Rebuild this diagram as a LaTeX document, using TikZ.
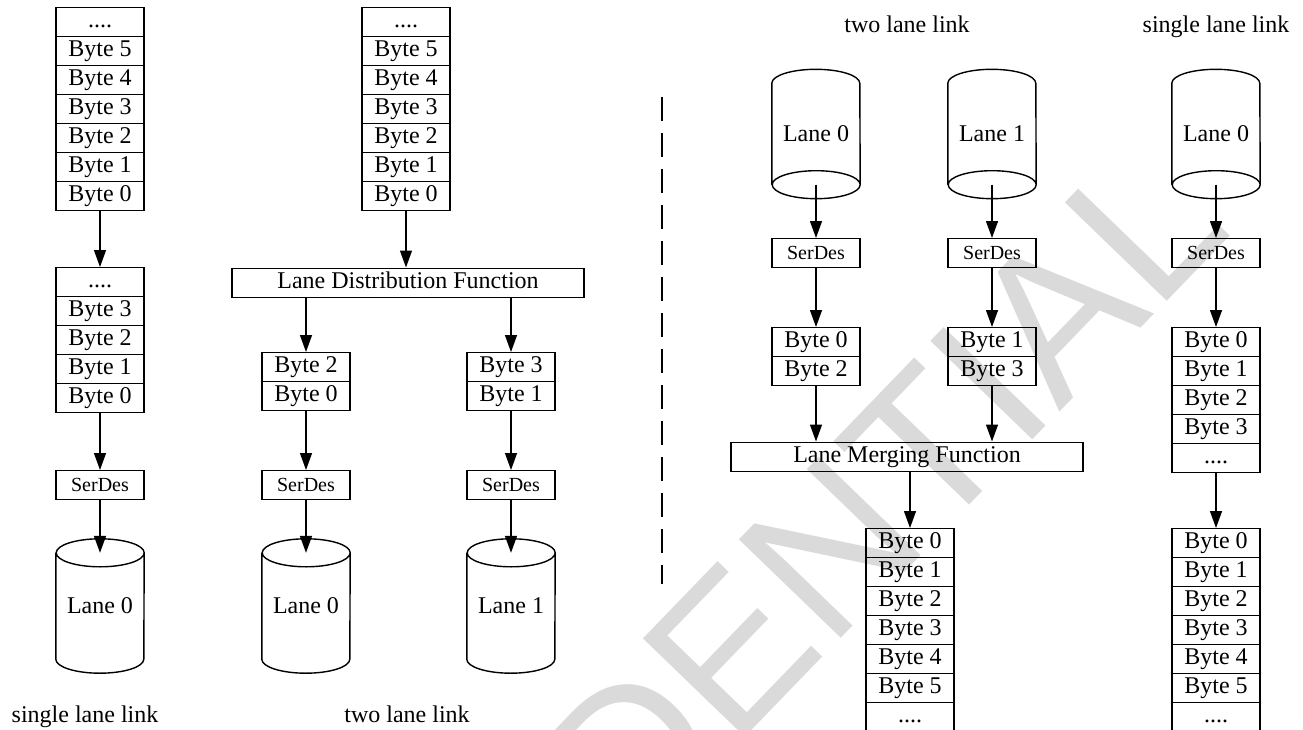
\documentclass[tikz,border=0pt]{standalone}
\usepackage{fontspec}
\setmainfont{Liberation Serif}
\newfontfamily\wmfont{Liberation Sans}
\usetikzlibrary{arrows.meta}
\definecolor{wmgray}{RGB}{218,218,218}
\newcommand\fourdots{....}
\tikzset{
  line/.style={line width=1.4pt},
  cell/.style={draw, line width=1.4pt, minimum width=88pt, minimum height=29pt, inner sep=0pt,
    anchor=north, font=\fontsize{24}{24}\selectfont, text height=16pt, text depth=5pt},
  serdes/.style={cell, font=\fontsize{20}{20}\selectfont, text height=13.5pt, text depth=0pt},
  func/.style={cell, minimum width=352pt},
  cyl/.style={minimum width=88pt, inner sep=0pt, font=\fontsize{24}{24}\selectfont},
  arr/.style={line width=1.4pt, -{Triangle[length=17pt,width=12pt]}},
  lbl/.style={anchor=base, inner sep=0pt, font=\fontsize{24}{24}\selectfont},
  divider/.style={line width=2pt, dash pattern=on 24pt off 12pt},
  watermark/.style={text=wmgray, inner sep=0pt, font=\wmfont\fontsize{206}{206}\selectfont},
}
\newcommand\stackcells[4]{%
  \foreach \t [count=\i] in {#4} {\node[cell] (#1-\i) at (#2, {#3+(\i-1)*29}) {\t};}%
}
\newcommand\cylTX[1]{%
  \draw[line] (#1.north west) -- (#1.south west)
    arc[start angle=180, end angle=360, x radius=44pt, y radius=14pt] -- (#1.north east)
    arc[start angle=0, end angle=360, x radius=44pt, y radius=14pt];%
}
\newcommand\cylRX[1]{%
  \draw[line] (#1.south west) -- (#1.north west)
    arc[start angle=180, end angle=0, x radius=44pt, y radius=14pt] -- (#1.south east)
    arc[start angle=0, end angle=-360, x radius=44pt, y radius=14pt];%
}
\begin{document}
\begin{tikzpicture}[x=1pt, y=-1pt]
\useasboundingbox (0,0) rectangle (1303,730);
% watermark
\node[watermark, rotate=46] (wm) at (659,725) {CONFIDENTIAL};

% ---------- left: single lane link (TX)
\stackcells{A}{100}{7}{\fourdots,Byte 5,Byte 4,Byte 3,Byte 2,Byte 1,Byte 0}
\stackcells{B}{100}{267}{\fourdots,Byte 3,Byte 2,Byte 1,Byte 0}
\node[serdes] (S1) at (100,470) {SerDes};
\node[cyl, minimum height=106pt] (C1) at (100,606) {Lane 0};
\cylTX{C1}
\node[lbl] (L1) at (85,722) {single lane link};

% ---------- left: two lane link (TX)
\stackcells{D}{406}{7}{\fourdots,Byte 5,Byte 4,Byte 3,Byte 2,Byte 1,Byte 0}
\node[func] (LDF) at (408,267.5) {Lane Distribution Function};
\stackcells{E}{306}{352}{Byte 2,Byte 0}
\stackcells{F}{511}{352}{Byte 3,Byte 1}
\node[serdes] (S2) at (306,470) {SerDes};
\node[serdes] (S3) at (511,470) {SerDes};
\node[cyl, minimum height=106pt] (C2) at (306,606) {Lane 0};
\node[cyl, minimum height=106pt] (C3) at (511,606) {Lane 1};
\cylTX{C2}
\cylTX{C3}
\node[lbl] (L2) at (407,722) {two lane link};

% ---------- divider
\coordinate (d1) at (662,97);
\coordinate (d2) at (662,584);
\draw[divider] (d1) -- (d2);

% ---------- right: two lane link (RX)
\node[lbl] (L3) at (907,33) {two lane link};
\node[cyl, minimum height=101pt] (R0) at (816,134) {Lane 0};
\node[cyl, minimum height=101pt] (R1) at (992,134) {Lane 1};
\cylRX{R0}
\cylRX{R1}
\node[serdes] (RS0) at (816,238) {SerDes};
\node[serdes] (RS1) at (992,238) {SerDes};
\stackcells{G}{816}{327}{Byte 0,Byte 2}
\stackcells{H}{992}{327}{Byte 1,Byte 3}
\node[func] (LMF) at (907,441.5) {Lane Merging Function};
\stackcells{I}{910}{528}{Byte 0,Byte 1,Byte 2,Byte 3,Byte 4,Byte 5,\fourdots}

% ---------- right: single lane link (RX)
\node[lbl] (L4) at (1216,33) {single lane link};
\node[cyl, minimum height=101pt] (R2) at (1216,134) {Lane 0};
\cylRX{R2}
\node[serdes] (RS2) at (1216,238) {SerDes};
\stackcells{J}{1216}{327}{Byte 0,Byte 1,Byte 2,Byte 3,\fourdots}
\stackcells{K}{1216}{528}{Byte 0,Byte 1,Byte 2,Byte 3,Byte 4,Byte 5,\fourdots}

% ---------- arrows
\draw[arr] (A-7.south) -- (B-1.north);
\draw[arr] (B-5.south) -- (S1.north);
\draw[arr] (S1.south) -- (C1.north);

\draw[arr] (D-7.south) -- (D-7.south |- LDF.north);
\draw[arr] (E-1.north |- LDF.south) -- (E-1.north);
\draw[arr] (F-1.north |- LDF.south) -- (F-1.north);
\draw[arr] (E-2.south) -- (S2.north);
\draw[arr] (F-2.south) -- (S3.north);
\draw[arr] (S2.south) -- (C2.north);
\draw[arr] (S3.south) -- (C3.north);

\draw[arr] (R0.south) -- (RS0.north);
\draw[arr] (R1.south) -- (RS1.north);
\draw[arr] (RS0.south) -- (G-1.north);
\draw[arr] (RS1.south) -- (H-1.north);
\draw[arr] (G-2.south) -- (G-2.south |- LMF.north);
\draw[arr] (H-2.south) -- (H-2.south |- LMF.north);
\draw[arr] (I-1.north |- LMF.south) -- (I-1.north);

\draw[arr] (R2.south) -- (RS2.north);
\draw[arr] (RS2.south) -- (J-1.north);
\draw[arr] (J-5.south) -- (K-1.north);
\end{tikzpicture}
\end{document}
